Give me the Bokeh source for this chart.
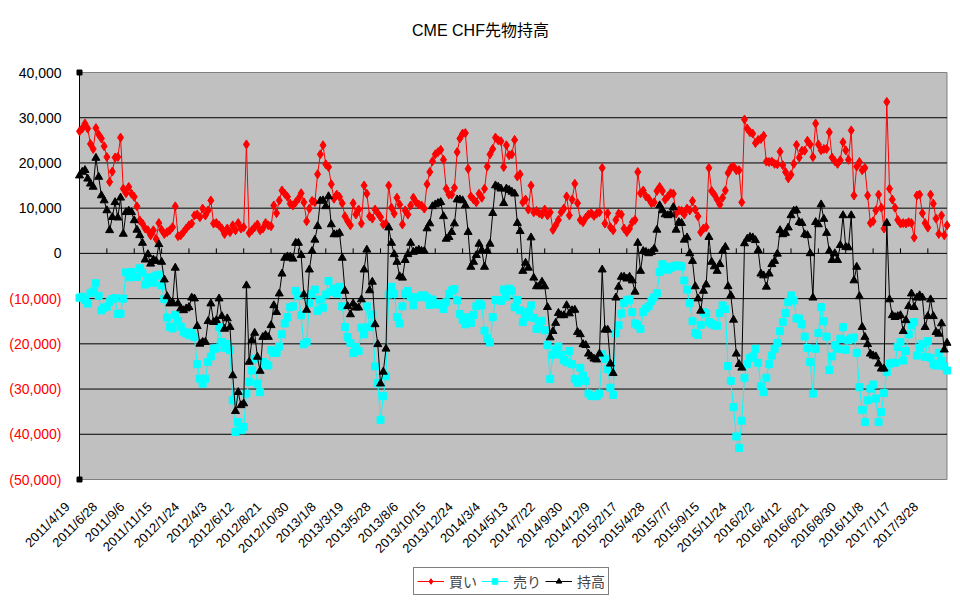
import math
from bokeh.plotting import figure
from bokeh.models import Range1d, Legend, LegendItem
from bokeh.core.properties import value
from bokeh.embed import file_html
from bokeh.resources import INLINE

# ---- data -------------------------------------------------------------
tick_labels = ["2011/4/19", "2011/6/28", "2011/9/6", "2011/11/15", "2012/1/24",
               "2012/4/3", "2012/6/12", "2012/8/21", "2012/10/30", "2013/1/8",
               "2013/3/19", "2013/5/28", "2013/8/6", "2013/10/15", "2013/12/24",
               "2014/3/4", "2014/5/13", "2014/7/22", "2014/9/30", "2014/12/9",
               "2015/2/17", "2015/4/28", "2015/7/7", "2015/9/15", "2015/11/24",
               "2016/2/2", "2016/4/12", "2016/6/21", "2016/8/30", "2016/11/8",
               "2017/1/17", "2017/3/28"]

y_ticks = [40000, 30000, 20000, 10000, 0, -10000, -20000, -30000, -40000, -50000]
y_tick_labels = ["40,000", "30,000", "20,000", "10,000", "0", "(10,000)",
                 "(20,000)", "(30,000)", "(40,000)", "(50,000)"]

buy = [
    27000, 27600, 28700, 27600, 24200, 23100, 27700, 26300, 25400, 23700,
    21300, 15800, 18100, 21200, 21300, 25600, 14300, 13300, 14700, 13200,
    12500, 10400, 7300, 6600, 5500, 5100, 4000, 5100, 3200, 6700,
    5200, 4300, 4700, 5100, 5800, 10400, 3800, 4000, 4700, 5500,
    6200, 6600, 8400, 8600, 8000, 9900, 8400, 9500, 11700, 6600,
    6700, 6200, 5500, 4300, 5500, 4700, 6200, 5100, 6700, 5500,
    5800, 24100, 4500, 5100, 5800, 6400, 5100, 5500, 6700, 6200,
    6000, 10600, 8900, 11700, 13900, 13200, 12500, 11000, 10600, 11300,
    12100, 13300, 11300, 7100, 9900, 11600, 11300, 17500, 21900, 23900,
    19700, 19100, 15300, 12100, 13000, 12500, 11100, 8200, 7100, 6200,
    11100, 8600, 9700, 6600, 15000, 13200, 8200, 7700, 9700, 8900,
    8000, 6400, 6600, 15000, 10100, 8800, 12300, 10800, 6400, 9500,
    8600, 10600, 12300, 11300, 10800, 10600, 9900, 15300, 18000, 20400,
    21900, 22400, 22900, 20700, 14300, 13000, 13000, 14500, 22400, 25400,
    26500, 26600, 18700, 12600, 11900, 11300, 13200, 12300, 14300, 19200,
    21900, 23100, 25600, 25000, 24800, 19100, 23900, 21700, 21900, 25100,
    17000, 17500, 11300, 11900, 9700, 15000, 9100, 9400, 8900, 8600,
    9700, 8400, 9100, 5200, 6200, 7400, 9100, 9900, 12600, 8400,
    11900, 15400, 11100, 7400, 6900, 7900, 8600, 8900, 8300, 8800,
    9100, 18900, 6600, 8900, 5800, 5100, 7400, 8800, 8600, 5500,
    4700, 5500, 6900, 7400, 18000, 13300, 13900, 12600, 12100, 11100,
    11300, 13800, 14700, 13800, 11900, 12600, 13300, 13200, 8800, 9500,
    9400, 8600, 9900, 9500, 11600, 9700, 8200, 4700, 5500, 5800,
    18900, 13800, 13000, 11900, 10800, 12300, 13900, 17800, 18900, 19200,
    18400, 18400, 11300, 29600, 27600, 26800, 26500, 24400, 25100, 25300,
    26000, 20300, 20200, 20300, 19800, 19700, 22500, 19500, 18000, 16600,
    17400, 19800, 24000, 21200, 22700, 22700, 24900, 24100, 21300, 28700,
    24100, 22800, 23100, 23100, 26800, 21200, 20400, 19800, 20600, 24600,
    22800, 20700, 27200, 12800, 19200, 20200, 18400, 18900, 12800, 6700,
    7100, 9500, 13000, 10100, 5500, 33500, 14300, 11900, 10100, 7400,
    6600, 6700, 6600, 6900, 6700, 3500, 12800, 13000, 8900, 6700,
    5700, 13000, 11000, 7700, 4300, 8400, 4000, 6200,
]

sell = [
    -9800, -9600, -10300, -11100, -8800, -8400, -6600, -9400, -12600, -12000,
    -11800, -10700, -10100, -9900, -13400, -13300, -10000, -4200, -5300, -4100,
    -5200, -5200, -3300, -4300, -6900, -5300, -6300, -6500, -4900, -4700,
    -7100, -10100, -14200, -16200, -16600, -13600, -14900, -16200, -17300, -17700,
    -18100, -17500, -18500, -24500, -27700, -28800, -27700, -24000, -22800, -21100,
    -21000, -16300, -19600, -20900, -20000, -21400, -32500, -39500, -37300, -39100,
    -38400, -31000, -28400, -25900, -23300, -28800, -30700, -24000, -24500, -24800,
    -21400, -22000, -22000, -20600, -17900, -15500, -14100, -11900, -11700, -8300,
    -9300, -13700, -20100, -19600, -11000, -8900, -8000, -12700, -10200, -12000,
    -9100, -6100, -8500, -7800, -8900, -7400, -11700, -16300, -18500, -19800,
    -22000, -20700, -21600, -16400, -17900, -11700, -16300, -13500, -25000, -28700,
    -36800, -31600, -27200, -9100, -7400, -8900, -14100, -15500, -11700, -8900,
    -8300, -9700, -11500, -9700, -9700, -9300, -9300, -9800, -11400, -10200,
    -11100, -11300, -11300, -12300, -10800, -9000, -8200, -7900, -10400, -13400,
    -14700, -15700, -14100, -15400, -13600, -11700, -11100, -11500, -17100, -18800,
    -19700, -14100, -10300, -10300, -10500, -8000, -9600, -7800, -8300, -11900,
    -10300, -12600, -15200, -14000, -12900, -11500, -14300, -16700, -16000, -14900,
    -17000, -20300, -27800, -22400, -21400, -20600, -22400, -23600, -24100, -21600,
    -24500, -27800, -28600, -25300, -27000, -28200, -31000, -31500, -31600, -31500,
    -31000, -22300, -23300, -25600, -29700, -31300, -17700, -15900, -13300, -11000,
    -10400, -10200, -13000, -15500, -15900, -16700, -13000, -12200, -11700, -10500,
    -9700, -8800, -4100, -2400, -2900, -3600, -3200, -2900, -2700, -2700,
    -2900, -6000, -8000, -11000, -15000, -17600, -18000, -15800, -13000, -13300,
    -15200, -15600, -15900, -16000, -13200, -11500, -12300, -24900, -28200, -34000,
    -40500, -43000, -37000, -27500, -24500, -23100, -22800, -21100, -24200, -29400,
    -30700, -27500, -24500, -22600, -21100, -19800, -17200, -15200, -13200, -10800,
    -9300, -10400, -14400, -14400, -15700, -18400, -20900, -24000, -31000, -21100,
    -17600, -11900, -15000, -18400, -25800, -22800, -20300, -21100, -18900, -16300,
    -21300, -19200, -18800, -18600, -22000, -29600, -34600, -37300, -32500, -29900,
    -29000, -32100, -37300, -35100, -30900, -26200, -24400, -24200, -24200, -20700,
    -19600, -23700, -21600, -17900, -15900, -15200, -22600, -20900, -20000, -22900,
    -19400, -23100, -24400, -24800, -22000, -23700, -25000, -25900,
]

net = [
    17200, 18000, 18400, 16500, 15400, 14700, 21100, 16900, 12800, 11700,
    9500, 5100, 8000, 11300, 7900, 12300, 4300, 9100, 9400, 9100,
    7300, 5200, 4000, 2300, -1400, -200, -2300, -1400, -1700, 2000,
    -1900, -5800, -9500, -11100, -10800, -3200, -11100, -12200, -12600, -12200,
    -11900, -9800, -10000, -16100, -20000, -19600, -19600, -15000, -11100, -15200,
    -14800, -10000, -13900, -16700, -14400, -16300, -27000, -34900, -30700, -33600,
    -33200, -7100, -24000, -19200, -17600, -22900, -26000, -18500, -18100, -18500,
    -15900, -11500, -13000, -8900, -4500, -1000, -700, -800, -1200, 2300,
    2300, -400, -9100, -12500, -3600, 500, 3000, 6000, 11600, 11700,
    10400, 12600, 6400, 4200, 4200, 4500, -1000, -8300, -11700, -13500,
    -11100, -12000, -12000, -10200, -3600, 800, -8200, -6300, -15700, -20100,
    -28800, -26200, -21100, 5700, 2300, -200, -1900, -5100, -5400, -1500,
    -200, 2300, 300, 500, 800, 500, 500, 5500, 6600, 10400,
    10800, 11100, 11300, 8200, 3200, 3600, 4700, 6600, 11900, 11900,
    11700, 10600, 4700, -3000, -1900, -400, 2100, 700, -3000, 500,
    2100, 8900, 15000, 14700, 14300, 11100, 14300, 14000, 13600, 13200,
    6700, 4900, -3900, -2100, -3200, 3500, -5400, -7300, -7300, -6300,
    -7300, -11900, -18600, -17200, -15400, -13200, -13700, -13700, -11500, -13300,
    -12600, -12500, -17400, -17900, -20100, -20300, -22200, -22800, -23300, -23500,
    -22200, -3600, -16900, -16900, -24400, -26500, -9800, -7400, -5200, -5200,
    -5600, -5200, -6000, -8500, 2300, -3900, 500, 300, 0, 300,
    1000, 5200, 10600, 9500, 8600, 8400, 8600, 10200, 5200, 6900,
    6700, 3000, 3500, 0, -1700, -7300, -10000, -12700, -8300, -6900,
    3600, -1900, -2900, -3900, -2400, 500, 1400, -7300, -9300, -14700,
    -22200, -24500, -25300, 2200, 3200, 3600, 3500, 2900, 700, -4500,
    -4900, -7400, -4500, -2400, -1700, -100, 5100, 4200, 4500, 5700,
    8400, 9400, 9500, 6900, 6700, 4200, 4000, 0, -9800, 6900,
    6400, 10800, 7600, 4500, 500, -1500, 0, -1500, 1800, 8400,
    1400, 1300, 8400, -6000, -3000, -9500, -16300, -18500, -20100, -22200,
    -22600, -22800, -24400, -25500, -25500, 6700, -10200, -13700, -14100, -13900,
    -13700, -17200, -14800, -11700, -8900, -11900, -9800, -9300, -9800, -16300,
    -13900, -10200, -13900, -17400, -17800, -15500, -21300, -19800,
]

title_text = "CME CHF先物持高"
series_names = ["買い", "売り", "持高"]

# ---- layout (pixels of the 960x604 page) ------------------------------
W, H = 960, 604
PX_LEFT, PX_RIGHT, PX_TOP, PX_BOTTOM = 79.0, 946.5, 72.0, 479.0
YMIN, YMAX = y_ticks[-1], y_ticks[0]

N = len(buy)
weeks = list(range(N))
tick_idx = list(range(0, N, 10))[:len(tick_labels)]

xs = (PX_RIGHT - PX_LEFT) / (N - 1)          # px per week
ys = (PX_BOTTOM - PX_TOP) / (YMAX - YMIN)    # px per unit

FONT = "Liberation Sans, Noto Sans CJK JP"

p = figure(width=W, height=H, output_backend="svg", toolbar_location=None,
           x_range=Range1d(-PX_LEFT / xs, (N - 1) + (W - PX_RIGHT) / xs),
           y_range=Range1d(YMIN - (H - PX_BOTTOM) / ys, YMAX + PX_TOP / ys),
           x_axis_location=None, y_axis_location=None,
           min_border_left=0, min_border_right=0, min_border_top=0, min_border_bottom=0)
p.outline_line_color = None
p.background_fill_color = "white"
p.border_fill_color = "white"
p.xgrid.visible = False
p.ygrid.visible = False

# plot area
p.quad(left=[0], right=[N - 1], bottom=[YMIN], top=[YMAX],
       fill_color="#C0C0C0", line_color="#808080", line_width=1)

# horizontal gridlines
grid_vals = [t for t in y_ticks if YMIN < t < YMAX]
p.segment(x0=[0] * len(grid_vals), x1=[N - 1] * len(grid_vals),
          y0=grid_vals, y1=grid_vals, line_color="black", line_width=1)

# value axis line with its end handles
p.segment(x0=[0], x1=[0], y0=[YMIN], y1=[YMAX], line_color="black", line_width=1)
p.scatter(x=[0, 0], y=[YMAX, YMIN], marker="square", size=5,
          fill_color="black", line_color="black")

# category tick marks on the zero line
p.segment(x0=tick_idx, y0=[0] * len(tick_idx), x1=tick_idx,
          y1=[5 / ys] * len(tick_idx), line_color="black", line_width=1)

# series
r1l = p.line(weeks, buy, line_color="#FF0000", line_width=1)
r1m = p.scatter(weeks, buy, marker="diamond", size=9, fill_color="#FF0000",
                line_color="#FF0000")
r2l = p.line(weeks, sell, line_color="#00FFFF", line_width=1)
r2m = p.scatter(weeks, sell, marker="square", size=7, fill_color="#00FFFF",
                line_color="#00FFFF")
r3l = p.line(weeks, net, line_color="black", line_width=1)
r3m = p.scatter(weeks, net, marker="triangle", size=8, fill_color="black",
                line_color="black")

# value axis labels (negatives red, in parentheses)
p.text(x=[0] * len(y_ticks), y=y_ticks, text=y_tick_labels,
       text_color=["black" if v >= 0 else "#FF0000" for v in y_ticks],
       x_offset=-18, text_align=value("right"), text_baseline=value("middle"),
       text_font=value(FONT), text_font_size=value("14px"))

# category labels, rotated 45 degrees
p.text(x=tick_idx, y=[YMIN] * len(tick_idx), text=tick_labels,
       angle=math.pi / 4, x_offset=-12, y_offset=25,
       text_color="black", text_align=value("right"), text_baseline=value("middle"),
       text_font=value(FONT), text_font_size=value("13px"))

# chart title, centred on the page
p.text(x=[(p.x_range.start + p.x_range.end) / 2], y=[YMAX + (PX_TOP - 30) / ys],
       text=[title_text], text_color="black", text_align=value("center"),
       text_baseline=value("middle"), text_font=value(FONT),
       text_font_size=value("16px"))

legend = Legend(items=[LegendItem(label=series_names[0], renderers=[r1l, r1m]),
                       LegendItem(label=series_names[1], renderers=[r2l, r2m]),
                       LegendItem(label=series_names[2], renderers=[r3l, r3m])],
                orientation="horizontal", location=(413, 9),
                border_line_color="black", border_line_width=1,
                background_fill_color="white", background_fill_alpha=1.0,
                label_text_font=FONT, label_text_font_size="14px",
                glyph_width=27, glyph_height=14, label_height=14,
                label_standoff=5, spacing=4, padding=3, margin=0)
p.add_layout(legend)

open("out.html", "w").write(file_html(p, INLINE))
